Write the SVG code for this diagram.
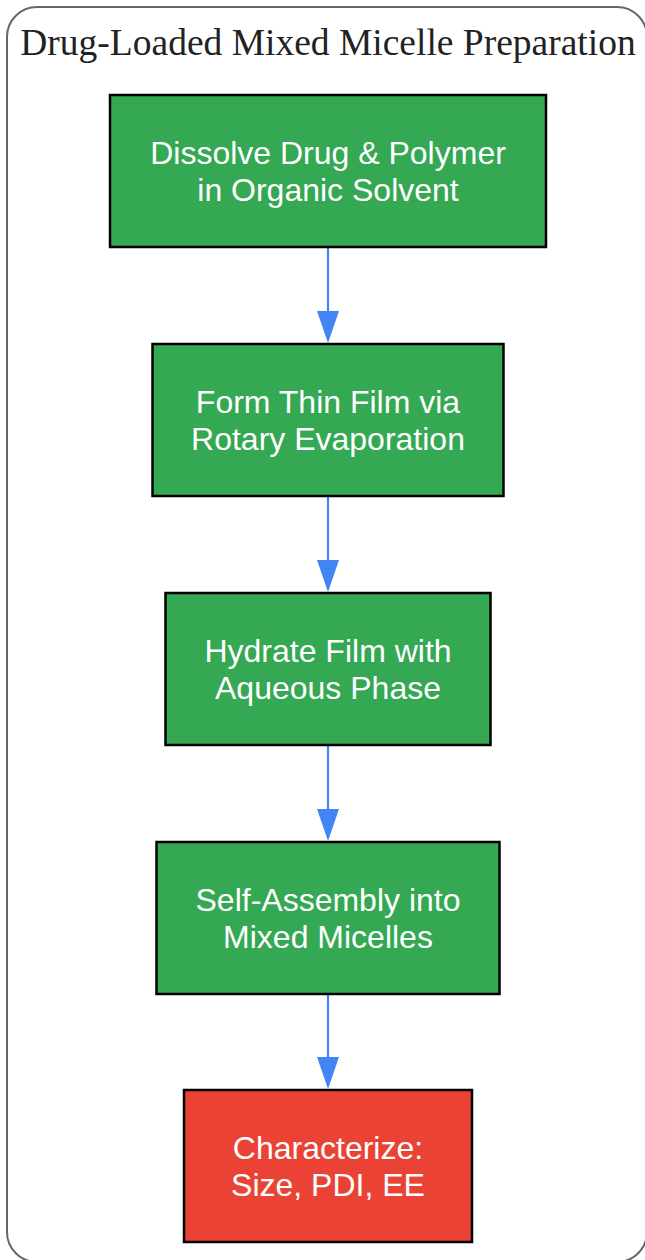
<svg xmlns="http://www.w3.org/2000/svg" width="645" height="1260" viewBox="0 0 645 1260">
<style>
.cluster{fill:#ffffff;stroke:#666666;stroke-width:2}
.title{font-family:"Liberation Serif","Times New Roman",serif;font-size:37.5px;fill:#222222}
.node rect{stroke:#000000;stroke-width:2.5}
.green rect{fill:#34a853}
.red rect{fill:#ea4335}
.node text{font-family:"Liberation Sans",Arial,sans-serif;font-size:32px;fill:#ffffff;text-anchor:middle}
.edge{stroke:#4285f4;stroke-width:2.2;fill:none}
.head{fill:#4285f4}
</style>
<rect width="645" height="1260" fill="#ffffff"/>
<g id="cluster">
<rect class="cluster" x="7" y="7" width="640" height="1255" rx="30" ry="30"/>
<text class="title" x="328" y="55" text-anchor="middle">Drug-Loaded Mixed Micelle Preparation</text>
</g>
<g id="connectors">
<line class="edge" x1="328" y1="248" x2="328" y2="312"/>
<polygon class="head" points="317,311 339,311 328,343"/>
<line class="edge" x1="328" y1="497" x2="328" y2="561"/>
<polygon class="head" points="317,560 339,560 328,592"/>
<line class="edge" x1="328" y1="746" x2="328" y2="810"/>
<polygon class="head" points="317,809 339,809 328,841"/>
<line class="edge" x1="328" y1="995" x2="328" y2="1058"/>
<polygon class="head" points="317,1057 339,1057 328,1089"/>
</g>
<g id="node1" class="node green">
<rect x="110" y="95" width="436" height="152"/>
<text x="328" y="164">Dissolve Drug &amp; Polymer</text>
<text x="328" y="201">in Organic Solvent</text>
</g>
<g id="node2" class="node green">
<rect x="152.5" y="344" width="351" height="152"/>
<text x="328" y="413">Form Thin Film via</text>
<text x="328" y="450">Rotary Evaporation</text>
</g>
<g id="node3" class="node green">
<rect x="165.5" y="593" width="325" height="152"/>
<text x="328" y="662">Hydrate Film with</text>
<text x="328" y="699">Aqueous Phase</text>
</g>
<g id="node4" class="node green">
<rect x="156.5" y="842" width="343" height="152"/>
<text x="328" y="911">Self-Assembly into</text>
<text x="328" y="948">Mixed Micelles</text>
</g>
<g id="node5" class="node red">
<rect x="184" y="1090" width="288" height="152"/>
<text x="328" y="1159">Characterize:</text>
<text x="328" y="1196">Size, PDI, EE</text>
</g>
</svg>
